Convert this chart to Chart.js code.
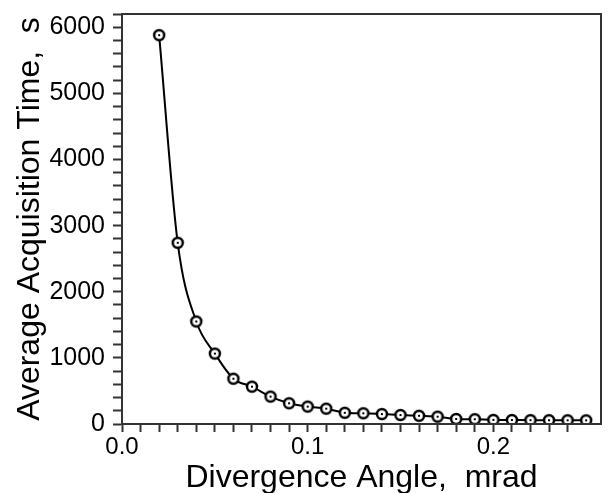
<!DOCTYPE html>
<html>
<head>
<meta charset="utf-8">
<script src="https://cdn.jsdelivr.net/npm/chart.js@4/dist/chart.umd.min.js"></script>
<style>
  html, body { margin: 0; padding: 0; background: #fff; }
  #wrap { width: 611px; height: 493px; }
</style>
</head>
<body>
<div id="wrap"><canvas id="chart" width="611" height="493"></canvas></div>
<script>
// divergence angle (mrad) and average acquisition time (s)
let angles = [0.02, 0.03, 0.04, 0.05, 0.06, 0.07, 0.08, 0.09, 0.10, 0.11, 0.12, 0.13,
              0.14, 0.15, 0.16, 0.17, 0.18, 0.19, 0.20, 0.21, 0.22, 0.23, 0.24, 0.25];
let times = [5880, 2740, 1550, 1065, 685, 565, 414, 313, 263, 232, 170, 162,
             150, 136, 124, 111, 76, 72, 62, 60, 58, 57, 56, 55];

let xTitle = 'Divergence Angle,  mrad';
let yTitle = 'Average Acquisition Time,  s';

let points = angles.map(function(a, i) { return {x: a, y: times[i]}; });

// open circle with a dot in the middle
let marker = document.createElement('canvas');
marker.width = 16;
marker.height = 16;
let mctx = marker.getContext('2d');
mctx.beginPath();
mctx.arc(8, 8, 5, 0, Math.PI * 2);
mctx.fillStyle = '#fff';
mctx.fill();
mctx.lineWidth = 2.5;
mctx.strokeStyle = '#000';
mctx.stroke();
mctx.fillStyle = '#000';
mctx.fillRect(7, 7, 2, 2);

let frame = {
    id: 'frame',
    afterDraw: function(chart) {
        let a = chart.chartArea;
        let ctx = chart.ctx;
        ctx.save();
        ctx.strokeStyle = '#333';
        ctx.lineWidth = 2;
        ctx.strokeRect(a.left, a.top, a.right - a.left, a.bottom - a.top);
        ctx.restore();
    }
};

Chart.defaults.font.family = '"Liberation Sans", Arial, sans-serif';
Chart.defaults.color = '#000';

new Chart(document.getElementById('chart'), {
    type: 'scatter',
    data: {
        datasets: [{
            data: points,
            showLine: true,
            borderColor: '#000',
            borderWidth: 2,
            cubicInterpolationMode: 'monotone',
            pointStyle: marker,
            pointRadius: 8,
            pointHoverRadius: 8
        }]
    },
    options: {
        responsive: false,
        animation: false,
        layout: { padding: { left: 0, top: 14, right: 6, bottom: 0 } },
        plugins: { legend: { display: false }, tooltip: { enabled: false } },
        scales: {
            x: {
                type: 'linear',
                min: 0,
                max: 0.258,
                afterFit: function(scale) {
                    scale.height = 69;
                    scale.paddingLeft = 0;
                    scale.paddingRight = 0;
                },
                afterBuildTicks: function(scale) {
                    scale.ticks = scale.ticks.filter(function(t) { return t.value < 0.2505; });
                },
                ticks: {
                    stepSize: 0.01,
                    autoSkip: false,
                    maxRotation: 0,
                    padding: 1,
                    font: { size: 24 },
                    callback: function(v) {
                        let n = Math.round(v * 100);
                        return n % 10 === 0 ? (n / 100).toFixed(1) : '';
                    }
                },
                grid: { drawOnChartArea: false, tickLength: 8, tickColor: '#333', tickWidth: 2 },
                border: { color: '#333', width: 2 },
                title: { display: true, text: xTitle, font: { size: 32 }, padding: { top: 0, bottom: -4 } }
            },
            y: {
                min: 0,
                max: 6200,
                afterFit: function(scale) {
                    scale.width = 122;
                    scale.paddingTop = 0;
                    scale.paddingBottom = 0;
                },
                ticks: {
                    stepSize: 200,
                    autoSkip: false,
                    padding: 8,
                    font: { size: 25 },
                    callback: function(v) { return v % 1000 === 0 ? v : ''; }
                },
                grid: { drawOnChartArea: false, tickLength: 9, tickColor: '#333', tickWidth: 2 },
                border: { color: '#333', width: 2 },
                title: { display: true, text: yTitle, font: { size: 32 }, padding: { top: 11, bottom: 0 } }
            }
        }
    },
    plugins: [frame]
});
</script>
</body>
</html>
